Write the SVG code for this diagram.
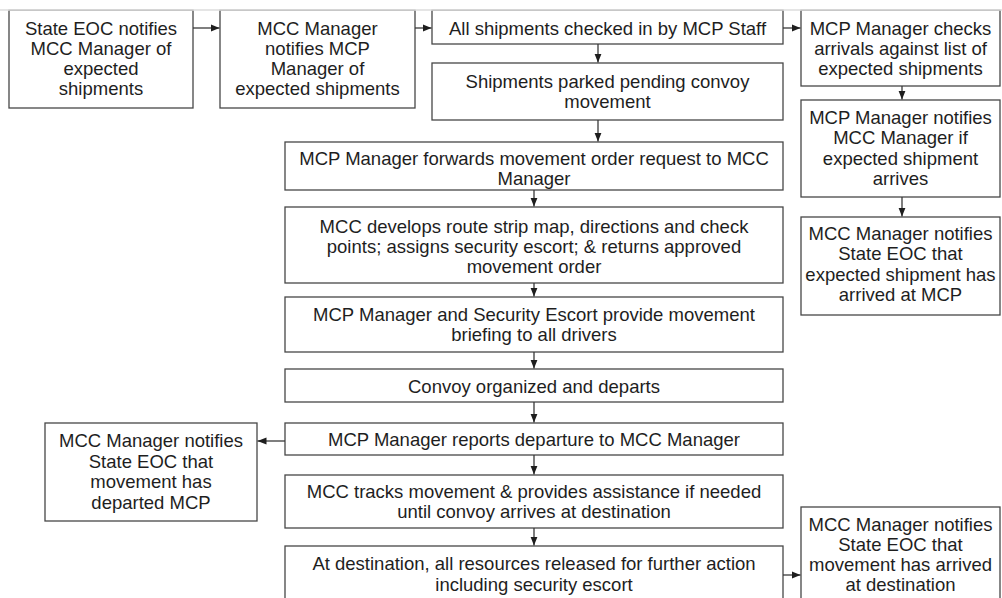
<svg xmlns="http://www.w3.org/2000/svg" width="1002" height="598" viewBox="0 0 1002 598">
  <style>
    .box { fill: #ffffff; stroke: #474747; stroke-width: 1.3; }
    .lbl { font-family: "Liberation Sans", Arial, sans-serif; font-size: 18.5px; fill: #1e1e1e; text-anchor: middle; }
    .conn { stroke: #3a3a3a; stroke-width: 1.3; fill: none; marker-end: url(#arrow); }
  </style>
  <defs>
    <marker id="arrow" markerUnits="userSpaceOnUse" markerWidth="10" markerHeight="8" refX="9" refY="4" orient="auto">
      <path d="M0,0.4 L9,4 L0,7.6 Z" fill="#1e1e1e"/>
    </marker>
  </defs>
  <rect width="1002" height="598" fill="#ffffff"/>

  <!-- top row -->
  <g id="state-eoc-notifies">
    <rect class="box" x="9" y="10" width="184" height="98"/>
    <text class="lbl" x="101" y="34.5">State EOC notifies</text>
    <text class="lbl" x="101" y="54.5">MCC Manager of</text>
    <text class="lbl" x="101" y="74.5">expected</text>
    <text class="lbl" x="101" y="94.5">shipments</text>
  </g>
  <g id="mcc-notifies-mcp">
    <rect class="box" x="220" y="10" width="195" height="98"/>
    <text class="lbl" x="317.5" y="34.5">MCC Manager</text>
    <text class="lbl" x="317.5" y="54.5">notifies MCP</text>
    <text class="lbl" x="317.5" y="74.5">Manager of</text>
    <text class="lbl" x="317.5" y="94.5">expected shipments</text>
  </g>
  <g id="checked-in">
    <rect class="box" x="432" y="10" width="351" height="34"/>
    <text class="lbl" x="607.5" y="34.5">All shipments checked in by MCP Staff</text>
  </g>
  <g id="mcp-checks-arrivals">
    <rect class="box" x="801" y="10" width="199" height="76"/>
    <text class="lbl" x="900.5" y="34.5">MCP Manager checks</text>
    <text class="lbl" x="900.5" y="54.5">arrivals against list of</text>
    <text class="lbl" x="900.5" y="74.5">expected shipments</text>
  </g>

  <!-- main column -->
  <g id="parked">
    <rect class="box" x="432" y="63" width="351" height="57"/>
    <text class="lbl" x="607.5" y="87.5">Shipments parked pending convoy</text>
    <text class="lbl" x="607.5" y="107.5">movement</text>
  </g>
  <g id="forwards-request">
    <rect class="box" x="285" y="142" width="498" height="48"/>
    <text class="lbl" x="534" y="164.5">MCP Manager forwards movement order request to MCC</text>
    <text class="lbl" x="534" y="184.5">Manager</text>
  </g>
  <g id="mcc-develops">
    <rect class="box" x="285" y="207" width="498" height="76"/>
    <text class="lbl" x="534" y="232.5">MCC develops route strip map, directions and check</text>
    <text class="lbl" x="534" y="252.5">points; assigns security escort; &amp; returns approved</text>
    <text class="lbl" x="534" y="272.5">movement order</text>
  </g>
  <g id="briefing">
    <rect class="box" x="285" y="297" width="498" height="55"/>
    <text class="lbl" x="534" y="320.5">MCP Manager and Security Escort provide movement</text>
    <text class="lbl" x="534" y="340.5">briefing to all drivers</text>
  </g>
  <g id="convoy-departs">
    <rect class="box" x="285" y="369" width="498" height="33"/>
    <text class="lbl" x="534" y="392.5">Convoy organized and departs</text>
  </g>
  <g id="reports-departure">
    <rect class="box" x="285" y="423" width="498" height="32"/>
    <text class="lbl" x="534" y="446">MCP Manager reports departure to MCC Manager</text>
  </g>
  <g id="tracks-movement">
    <rect class="box" x="285" y="475" width="498" height="53"/>
    <text class="lbl" x="534" y="497.5">MCC tracks movement &amp; provides assistance if needed</text>
    <text class="lbl" x="534" y="518">until convoy arrives at destination</text>
  </g>
  <g id="at-destination">
    <rect class="box" x="285" y="546" width="498" height="70"/>
    <text class="lbl" x="534" y="569.5">At destination, all resources released for further action</text>
    <text class="lbl" x="534" y="590.5">including security escort</text>
  </g>

  <!-- right column -->
  <g id="mcp-notifies-mcc">
    <rect class="box" x="801" y="100" width="199" height="97"/>
    <text class="lbl" x="900.5" y="123.5">MCP Manager notifies</text>
    <text class="lbl" x="900.5" y="144">MCC Manager if</text>
    <text class="lbl" x="900.5" y="164.5">expected shipment</text>
    <text class="lbl" x="900.5" y="184.5">arrives</text>
  </g>
  <g id="arrived-at-mcp">
    <rect class="box" x="801" y="217" width="199" height="98"/>
    <text class="lbl" x="900.5" y="239.5">MCC Manager notifies</text>
    <text class="lbl" x="900.5" y="260">State EOC that</text>
    <text class="lbl" x="900.5" y="280.5">expected shipment has</text>
    <text class="lbl" x="900.5" y="301">arrived at MCP</text>
  </g>
  <g id="arrived-at-destination">
    <rect class="box" x="801" y="507" width="199" height="110"/>
    <text class="lbl" x="900.5" y="530.5">MCC Manager notifies</text>
    <text class="lbl" x="900.5" y="550.5">State EOC that</text>
    <text class="lbl" x="900.5" y="570.5">movement has arrived</text>
    <text class="lbl" x="900.5" y="591">at destination</text>
  </g>

  <!-- left side -->
  <g id="departed-mcp">
    <rect class="box" x="45" y="423" width="212" height="98"/>
    <text class="lbl" x="151" y="446.5">MCC Manager notifies</text>
    <text class="lbl" x="151" y="467.5">State EOC that</text>
    <text class="lbl" x="151" y="487.5">movement has</text>
    <text class="lbl" x="151" y="508.5">departed MCP</text>
  </g>

  <!-- connectors -->
  <g id="connectors">
    <line class="conn" x1="193" y1="28" x2="219.5" y2="28"/>
    <line class="conn" x1="415" y1="28" x2="431.5" y2="28"/>
    <line class="conn" x1="783" y1="28" x2="800.5" y2="28"/>
    <line class="conn" x1="598" y1="44" x2="598" y2="62.5"/>
    <line class="conn" x1="598" y1="120" x2="598" y2="141.5"/>
    <line class="conn" x1="534" y1="190" x2="534" y2="206.5"/>
    <line class="conn" x1="534" y1="283" x2="534" y2="296.5"/>
    <line class="conn" x1="534" y1="352" x2="534" y2="368.5"/>
    <line class="conn" x1="534" y1="402" x2="534" y2="422.5"/>
    <line class="conn" x1="285" y1="441" x2="257.5" y2="441"/>
    <line class="conn" x1="534" y1="455" x2="534" y2="474.5"/>
    <line class="conn" x1="534" y1="528" x2="534" y2="545.5"/>
    <line class="conn" x1="783" y1="575" x2="800.5" y2="575"/>
    <line class="conn" x1="902" y1="86" x2="902" y2="99.5"/>
    <line class="conn" x1="902" y1="197" x2="902" y2="216.5"/>
  </g>

  <!-- cropped upper margin -->
  <rect x="0" y="0" width="1002" height="9.5" fill="#ffffff"/>
  <line x1="0" y1="10" x2="1002" y2="10" stroke="#dcdcdc" stroke-width="1.4"/>
</svg>
